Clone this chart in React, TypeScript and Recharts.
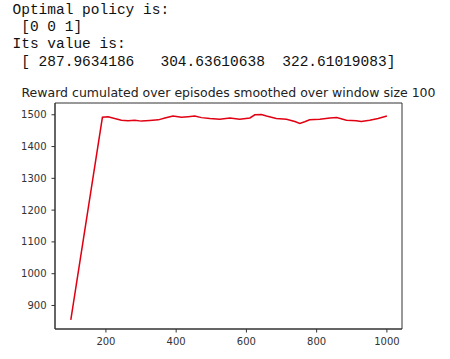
import React from "react";
import { LineChart, Line, XAxis, YAxis, ReferenceArea } from "recharts";

const episodes = [100, 190, 206, 225, 244, 263, 282, 301, 325, 349, 368, 391, 415, 434, 453, 472, 496, 524, 553, 581, 610, 624, 643, 657, 685, 714, 738, 752, 766, 780, 809, 838, 857, 885, 913, 927, 951, 975, 1000];
const rewards = [855, 1492, 1494, 1488, 1483, 1481, 1483, 1480, 1482, 1484, 1490, 1496, 1492, 1494, 1496, 1491, 1488, 1486, 1490, 1486, 1490, 1500, 1501, 1496, 1488, 1486, 1479, 1473, 1478, 1484, 1486, 1490, 1491, 1483, 1481, 1479, 1483, 1488, 1496];

const xTicks = [200, 400, 600, 800, 1000];
const yTicks = [900, 1000, 1100, 1200, 1300, 1400, 1500];

const consoleLines = [
  "Optimal policy is:",
  " [0 0 1]",
  "Its value is:",
  " [ 287.9634186   304.63610638  322.61019083]",
];
const title = "Reward cumulated over episodes smoothed over window size 100";

const data = episodes.map((e, i) => ({ episode: e, reward: rewards[i] }));

const tickStyle = { fontFamily: "DejaVu Sans", fontSize: 10, fill: "#333" };

export default function App() {
  return (
    <div style={{ position: "absolute", left: 0, top: 0, width: 450, height: 359, background: "#fff" }}>
      <svg width={450} height={100} style={{ position: "absolute", left: 0, top: 0 }}>
        {consoleLines.map((t, i) => (
          <text
            key={i}
            x={12.5}
            y={14 + i * 17.2}
            xmlSpace="preserve"
            style={{ whiteSpace: "pre", fontFamily: "Liberation Mono", fontSize: 14.5, fill: "#111" }}
          >
            {t}
          </text>
        ))}
        <text x={228.5} y={97} textAnchor="middle" style={{ fontFamily: "DejaVu Sans", fontSize: 12.5, fill: "#222" }}>
          {title}
        </text>
      </svg>
      <div style={{ position: "absolute", left: 0, top: 0 }}>
        <LineChart width={450} height={359} data={data} margin={{ top: 103, left: 15, right: 48, bottom: 5 }}>
          <XAxis
            dataKey="episode"
            type="number"
            domain={[55, 1043]}
            ticks={xTicks}
            height={25}
            tickSize={3.5}
            tickMargin={5.5}
            tick={tickStyle}
            stroke="#333"
            interval={0}
            allowDataOverflow
          />
          <YAxis
            type="number"
            domain={[826, 1537]}
            ticks={yTicks}
            width={40}
            tickSize={3.5}
            tickMargin={5}
            tick={tickStyle}
            stroke="#333"
            interval={0}
            allowDataOverflow
          />
          <ReferenceArea x1={55} x2={1043} y1={826} y2={1537} fill="none" stroke="#333" strokeWidth={1} ifOverflow="visible" />
          <Line
            dataKey="reward"
            type="linear"
            stroke="#e00012"
            strokeWidth={1.5}
            dot={false}
            isAnimationActive={false}
          />
        </LineChart>
      </div>
    </div>
  );
}
